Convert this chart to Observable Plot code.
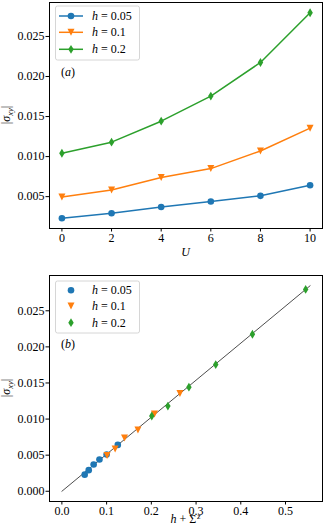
<!DOCTYPE html>
<html><head><meta charset="utf-8">
<script src="https://cdn.jsdelivr.net/npm/d3@7"></script>
<script src="https://cdn.jsdelivr.net/npm/@observablehq/plot@0.6"></script>
<style>html,body{margin:0;background:#fff;overflow:hidden} #wrap{width:324px;height:532px;line-height:0}
#wrap svg{max-width:none !important;width:324px;height:266px}</style>
</head><body><div id="wrap"></div>
<script>
// ---- data ----
const U = [0, 2, 4, 6, 8, 10];
const hLabels = ["0.05", "0.1", "0.2"];
const colors = ["#1f77b4", "#ff7f0e", "#2ca02c"];
const sigmaH005 = [0.00230, 0.00292, 0.00370, 0.00440, 0.00510, 0.00642];
const sigmaH01  = [0.00496, 0.00584, 0.00738, 0.00850, 0.01070, 0.01355];
const sigmaH02  = [0.01042, 0.01180, 0.01442, 0.01755, 0.02175, 0.02796];
const hSigmaZH005 = [0.051, 0.060, 0.071, 0.084, 0.100, 0.125];
const hSigmaZH01  = [0.101, 0.119, 0.140, 0.170, 0.207, 0.264];
const hSigmaZH02  = [0.201, 0.237, 0.284, 0.344, 0.426, 0.545];
const fitX = [0, 0.555];
const fitY = [0, 0.02847];
const xTicksA = [0, 2, 4, 6, 8, 10];
const yTicksA = [0.005, 0.010, 0.015, 0.020, 0.025];
const xTicksB = [0.0, 0.1, 0.2, 0.3, 0.4, 0.5];
const yTicksB = [0.000, 0.005, 0.010, 0.015, 0.020, 0.025];
const panelLabels = ["a", "b"];

// ---- symbols ----
const triDown = {draw(ctx, size){ const r = Math.sqrt(size/Math.PI); ctx.moveTo(-r,-r); ctx.lineTo(r,-r); ctx.lineTo(0,r); ctx.closePath(); }};
const thinDiamond = {draw(ctx, size){ const r = Math.sqrt(size/Math.PI); ctx.moveTo(0,-1.3*r); ctx.lineTo(0.8*r,0); ctx.lineTo(0,1.3*r); ctx.lineTo(-0.8*r,0); ctx.closePath(); }};
const symbols = [d3.symbolCircle, triDown, thinDiamond];
const radii = [3.3, 3.5, 3.4];

const zip = (xs, ys) => xs.map((x, i) => ({x, y: ys[i]}));
const seriesA = [sigmaH005, sigmaH01, sigmaH02].map(s => zip(U, s));
const seriesB = [[hSigmaZH005, sigmaH005], [hSigmaZH01, sigmaH01], [hSigmaZH02, sigmaH02]].map(([xs, ys]) => zip(xs, ys));
const fit = zip(fitX, fitY);

const FS = 12;
const baseStyle = `font-family: "Liberation Serif", serif; font-size: ${FS}px;`;

function axes(xt, xf, yt, yf){
  return [
    Plot.axisX({ticks: xt, tickFormat: xf, tickSize: 3.5, tickPadding: 1.5, label: null, fontSize: FS}),
    Plot.axisY({ticks: yt, tickFormat: yf, tickSize: 3.5, tickPadding: 1.5, label: null, fontSize: FS})
  ];
}

const plotA = Plot.plot({
  width: 324, height: 266, marginLeft: 49, marginRight: 2, marginTop: 2, marginBottom: 38,
  style: baseStyle,
  x: {domain: [-0.5, 10.5]},
  y: {domain: [0.00102, 0.02924]},
  marks: [
    ...axes(xTicksA, d3.format("d"), yTicksA, d3.format(".3f")),
    ...seriesA.map((d, i) => Plot.line(d, {x: "x", y: "y", stroke: colors[i], strokeWidth: 1.5})),
    ...seriesA.map((d, i) => Plot.dot(d, {x: "x", y: "y", fill: colors[i], stroke: "none", symbol: symbols[i], r: radii[i]})),
    Plot.frame({stroke: "#000", strokeWidth: 1})
  ]
});

const plotB = Plot.plot({
  width: 324, height: 266, marginLeft: 49, marginRight: 2, marginTop: 9, marginBottom: 31,
  style: baseStyle,
  x: {domain: [-0.0277, 0.5827]},
  y: {domain: [-0.00142, 0.02989]},
  marks: [
    ...axes(xTicksB, d3.format(".1f"), yTicksB, d3.format(".3f")),
    Plot.line(fit, {x: "x", y: "y", stroke: "#000", strokeWidth: 0.7}),
    ...seriesB.map((d, i) => Plot.dot(d, {x: "x", y: "y", fill: colors[i], stroke: "none", symbol: symbols[i], r: radii[i]})),
    Plot.frame({stroke: "#000", strokeWidth: 1})
  ]
});

const wrap = document.getElementById("wrap");
wrap.append(plotA, plotB);

function mathLabel(g, parts){
  parts.forEach(p => {
    const t = g.append("tspan").text(p.t);
    if (p.i) t.attr("font-style", "italic");
    if (p.sub) t.attr("dy", 3).style("font-size", "8.5px");
    if (p.sup) t.attr("dy", -4.5).attr("dx", 1).style("font-size", "8.5px");
    if (p.after) t.attr("dy", -3);
  });
}

function txt(sel, anchor){
  return sel.append("text").attr("fill", "#000").attr("text-anchor", anchor);
}

function decorate(plot, o){
  const svg = d3.select(plot);
  const fy = o.frameTop, fb = o.frameBottom;
  const yl = txt(svg, "middle").attr("transform", `translate(10,${(fy+fb)/2}) rotate(-90)`);
  mathLabel(yl, [{t: "|"}, {t: "σ", i: 1}, {t: "xy", i: 1, sub: 1}, {t: "|", after: 1}]);
  const xl = txt(svg, "middle").attr("x", 185.5).attr("y", o.xLabelY);
  mathLabel(xl, o.xLabel);
  const lg = svg.append("g");
  lg.append("rect").attr("x", 55.5).attr("y", o.legY).attr("width", 84).attr("height", o.legH)
    .attr("rx", 2).attr("fill", "#fff").attr("fill-opacity", 0.8).attr("stroke", "#d6d6d6").attr("stroke-width", 1);
  hLabels.forEach((h, i) => {
    const y = o.rows[i];
    if (o.lines) lg.append("line").attr("x1", 59).attr("x2", 83).attr("y1", y).attr("y2", y)
      .attr("stroke", colors[i]).attr("stroke-width", 1.5);
    const r = radii[i];
    lg.append("path").attr("transform", `translate(71,${y})`)
      .attr("d", d3.symbol(symbols[i], r*r*Math.PI)()).attr("fill", colors[i]);
    const t = txt(lg, "start").attr("x", 92).attr("y", y + 4);
    mathLabel(t, [{t: "h", i: 1}, {t: " = " + h}]);
  });
  const pl = txt(svg, "start").attr("x", 61).attr("y", o.panelY);
  mathLabel(pl, [{t: "("}, {t: o.panel, i: 1}, {t: ")"}]);
}

decorate(plotA, {frameTop: 2, frameBottom: 228, xLabelY: 256, xLabel: [{t: "U", i: 1}],
  legY: 6, legH: 54, rows: [16, 32.3, 49.3], lines: true, panel: panelLabels[0], panelY: 76});
decorate(plotB, {frameTop: 9, frameBottom: 235, xLabelY: 257,
  xLabel: [{t: "h", i: 1}, {t: " + Σ"}, {t: "z", i: 1, sup: 1}],
  legY: 15, legH: 52, rows: [24.3, 40, 56.7], lines: false, panel: panelLabels[1], panelY: 82});

d3.selectAll("#wrap text").style("font-family", '"Liberation Serif", serif').each(function(){
  if (!this.style.fontSize) this.style.fontSize = FS + "px";
});
</script>
</body></html>
